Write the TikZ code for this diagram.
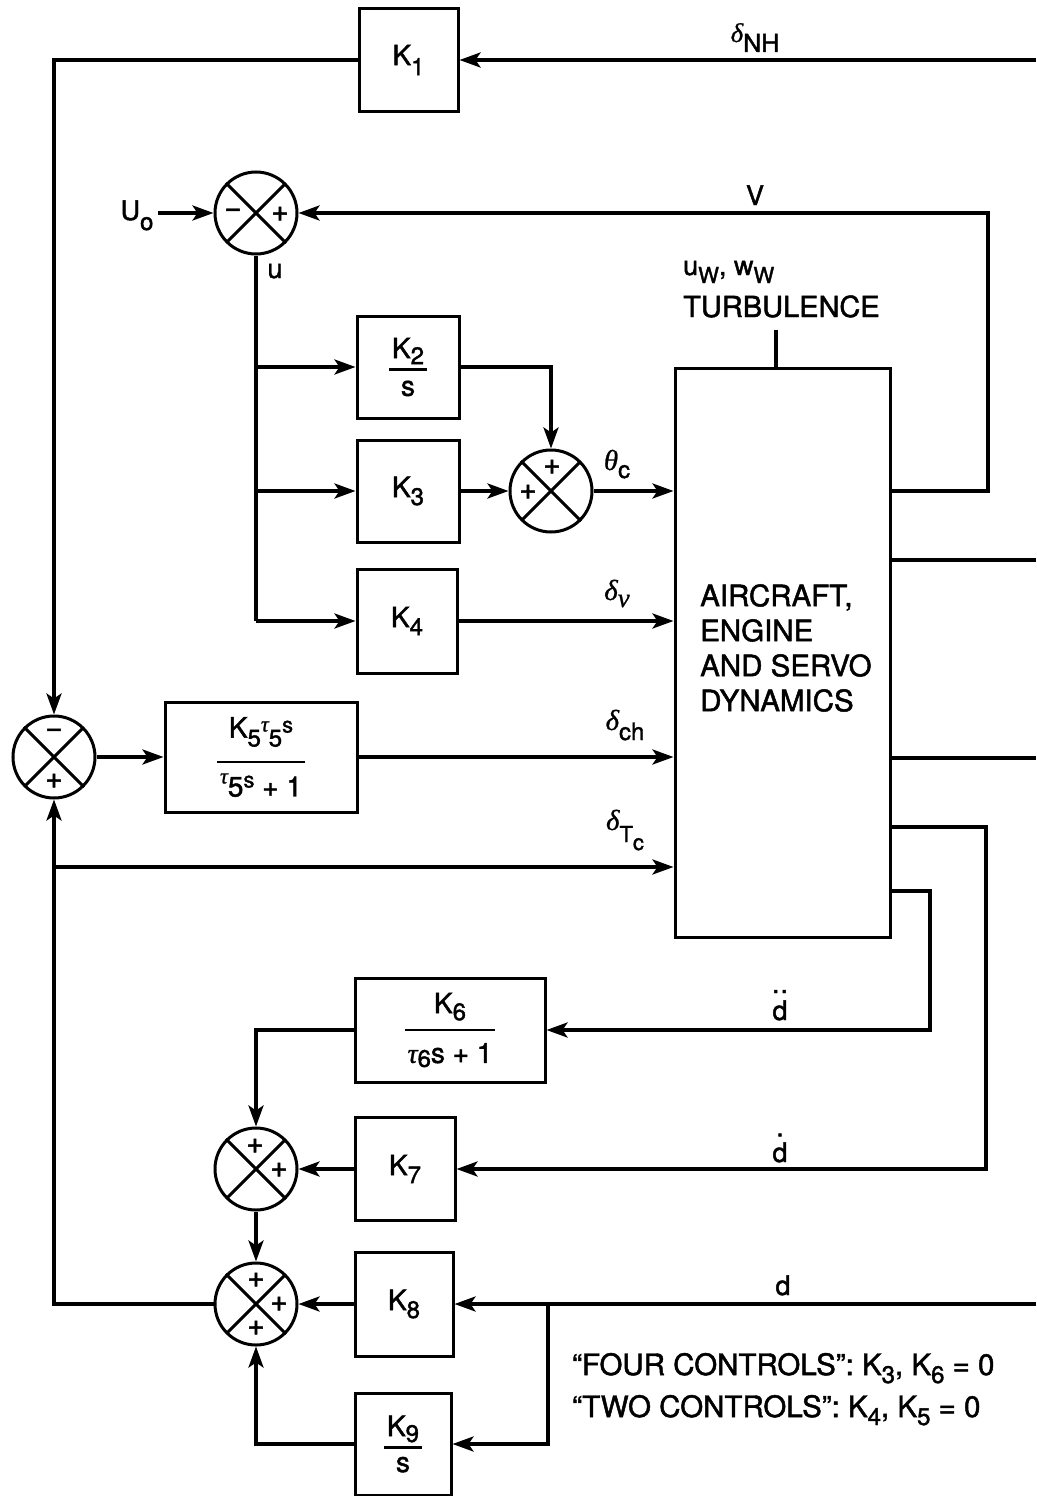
\RequirePackage{fix-cm}
\documentclass[tikz,border=0pt]{standalone}
\usepackage{fontspec}
\setmainfont{TeX Gyre Heros}[FakeBold=1.6]
\newfontfamily\grk{Liberation Serif}[FakeBold=0.8]
\usetikzlibrary{arrows.meta}
\newcommand\gk[1]{{\grk\itshape #1}}
\newcommand\lo[2][8pt]{\raisebox{-#1}{\fontsize{24}{24}\selectfont #2}}
\newcommand\hi[2][8pt]{\raisebox{#1}{\fontsize{22}{22}\selectfont #2}}
\newcommand\fr[4]{\vbox{\offinterlineskip\halign{\hfil\kern3pt##\kern3pt\hfil\cr #1\cr\noalign{\kern#3\hrule height 2.5pt\kern#4}#2\cr}}}
\newcommand\ddd{\ooalign{d\cr\hidewidth\raisebox{1.0em}{.\kern1pt.}\hidewidth\cr}}
\newcommand\dtd{\ooalign{d\cr\hidewidth\raisebox{0.95em}{.}\hidewidth\cr}}
\newcommand\sumx[2]{\node[sumj] (#1) at (#2) {};
  \draw[xln] (#1.north west) -- (#1.south east) (#1.north east) -- (#1.south west);}
\begin{document}
\begin{tikzpicture}[x=1pt,y=-1pt,
  font=\fontsize{28}{35}\selectfont,
  blk/.style={draw, line width=3pt, inner sep=0pt, align=center},
  sumj/.style={draw, circle, line width=3pt, minimum size=82pt, inner sep=0pt},
  xln/.style={line width=3pt, shorten <=1.5pt, shorten >=1.5pt},
  ln/.style={line width=3.5pt},
  arr/.style={line width=3.5pt, -{Stealth[length=21pt,width=15pt,inset=5pt]}},
  sg/.style={inner sep=0pt, font=\fontsize{30}{30}\selectfont},
  lbl/.style={inner sep=0pt, font=\fontsize{27}{30}\selectfont}]
\useasboundingbox (0,0) rectangle (1036,1496);
\clip (0,0) rectangle (1036,1496);

% blocks
\node[blk, minimum width=99pt, minimum height=103pt] (k1) at (408.5,60) {K\lo[10pt]{1}};
\node[blk, minimum width=102pt, minimum height=102pt] (k2) at (408,367) {\fr{K\lo[6pt]{2}}{s}{4pt}{10pt}};
\node[blk, minimum width=102pt, minimum height=102pt] (k3) at (408,491) {K\lo{3}};
\node[blk, minimum width=100pt, minimum height=104pt] (k4) at (407,621) {K\lo{4}};
\node[blk, minimum width=192pt, minimum height=110pt] (k5) at (261,757) {\fr{K\lo[9pt]{5}\hi[6pt]{\gk{τ}}\lo[9pt]{5}\hi[5pt]{s}}{\hi[13pt]{\gk{τ}}5\hi[9pt]{s} + 1}{14pt}{10pt}};
\node[blk, minimum width=215pt, minimum height=569pt] (ac) at (782.5,652.5) {};
\node[inner sep=0pt, align=left, anchor=north west, font=\fontsize{29.5}{35}\selectfont] (actxt) at (700,584) {AIRCRAFT,\\ENGINE\\AND SERVO\\DYNAMICS};
\node[blk, minimum width=190pt, minimum height=104pt] (k6) at (450,1030) {\fr{K\lo[7pt]{6}}{\gk{τ}\lo[4pt]{6}s + 1}{8pt}{12pt}};
\node[blk, minimum width=100pt, minimum height=103pt] (k7) at (405,1169) {K\lo{7}};
\node[blk, minimum width=98pt, minimum height=104pt] (k8) at (404,1304) {K\lo{8}};
\node[blk, minimum width=96pt, minimum height=102pt] (k9) at (403,1444) {\fr{K\lo[6pt]{9}}{s}{4pt}{8pt}};

% summing junctions
\sumx{s1}{256,213}
\sumx{s2}{551,491}
\sumx{s5}{54,757}
\sumx{s6}{256,1169}
\sumx{s7}{256,1304}
\node[sg] (s1a) at (233,213) {−};
\node[sg] (s1b) at (280,214) {+};
\node[sg] (s2a) at (552,467) {+};
\node[sg] (s2b) at (528,492) {+};
\node[sg] (s5a) at (54,733) {−};
\node[sg] (s5b) at (54,781) {+};
\node[sg] (s6a) at (255,1146) {+};
\node[sg] (s6b) at (279,1170) {+};
\node[sg] (s7a) at (256,1280) {+};
\node[sg] (s7b) at (279,1304) {+};
\node[sg] (s7c) at (256,1328) {+};

% labels
\node[lbl, anchor=base] (lnh) at (755,52) {\raisebox{10pt}{\gk{δ}}\raisebox{0pt}{\fontsize{25}{25}\selectfont NH}};
\node[lbl, anchor=base] (lv) at (755,205) {V};
\node[lbl, anchor=base, inner sep=4pt] (uo) at (137,220) {U\lo[10pt]{o}};
\node[lbl, anchor=base] (lu) at (275,278) {u};
\node[lbl, anchor=base west] (tb1) at (683,275) {u{\fontsize{22}{22}\selectfont\raisebox{-8pt}{W}}, w{\fontsize{22}{22}\selectfont\raisebox{-8pt}{W}}};
\node[lbl, anchor=base west, font=\fontsize{29}{30}\selectfont] (tb2) at (683,317) {TURBULENCE};
\node[lbl, anchor=base] (lth) at (617,470) {{\fontsize{29}{29}\selectfont\gk{θ}}\lo[8pt]{c}};
\node[lbl, anchor=base] (lnu) at (617,600) {{\fontsize{29}{29}\selectfont\gk{δ}}\raisebox{-7pt}{\gk{ν}}};
\node[lbl, anchor=base] (lch) at (625,740) {\raisebox{10pt}{\fontsize{29}{29}\selectfont\gk{δ}}\lo[0pt]{ch}};
\node[lbl, anchor=base] (ltc) at (625,842) {\raisebox{12pt}{\fontsize{29}{29}\selectfont\gk{δ}}{\fontsize{22}{22}\selectfont T\raisebox{-8pt}{c}}};
\node[lbl, anchor=base] (ldd) at (780,1020) {\ddd};
\node[lbl, anchor=base] (ld1) at (780,1162) {\dtd};
\node[lbl, anchor=base] (ld0) at (783,1295) {d};
\node[lbl, anchor=base west, font=\fontsize{29.5}{30}\selectfont] (n1) at (572,1375) {``FOUR CONTROLS'': K\lo{3}, K\lo{6} = 0};
\node[lbl, anchor=base west, font=\fontsize{29.5}{30}\selectfont] (n2) at (572,1417) {``TWO CONTROLS'': K\lo{4}, K\lo{5} = 0};

% free ends and corners
\coordinate (nhR) at (1036,60);
\coordinate (o1) at (890,491);
\coordinate (vR) at (988,213);
\coordinate (o2) at (890,560);
\coordinate (e2) at (1036,560);
\coordinate (o3) at (890,758);
\coordinate (e3) at (1036,758);
\coordinate (o4) at (890,827);
\coordinate (c7) at (986,1169);
\coordinate (o5) at (890,891);
\coordinate (c6) at (930,1030);
\coordinate (dR) at (1036,1304);
\coordinate (dj) at (548,1304);
\coordinate (j1) at (54,867);
\coordinate (tbl) at (776,330);

% connectors
\draw[arr] (nhR) -- (k1.east);
\draw[arr] (k1.west) -| (s5.north);
\draw[arr] (s1.west -| uo.east) -- (s1.west);
\draw[arr] (o1) -| (vR) -- (s1.east);
\draw[ln] (s1.south) -- (s1.south |- k4.west);
\draw[arr] (s1.south |- k2.west) -- (k2.west);
\draw[arr] (s1.south |- k3.west) -- (k3.west);
\draw[arr] (s1.south |- k4.west) -- (k4.west);
\draw[arr] (k2.east) -| (s2.north);
\draw[arr] (k3.east) -- (s2.west);
\draw[arr] (s2.east) -- (s2.east -| ac.west);
\draw[arr] (k4.east) -- (k4.east -| ac.west);
\draw[arr] (s5.east) -- (k5.west);
\draw[arr] (k5.east) -- (k5.east -| ac.west);
\draw[arr] (j1) -- (j1 -| ac.west);
\draw[ln] (tbl) -- (tbl |- ac.north);
\draw[ln] (o2) -- (e2);
\draw[ln] (o3) -- (e3);
\draw[arr] (o4) -| (c7) -- (k7.east);
\draw[arr] (o5) -| (c6) -- (k6.east);
\draw[arr] (k6.west) -| (s6.north);
\draw[arr] (k7.west) -- (s6.east);
\draw[arr] (s6.south) -- (s7.north);
\draw[arr] (dR) -- (k8.east);
\draw[arr] (dj) |- (k9.east);
\draw[arr] (k8.west) -- (s7.east);
\draw[arr] (k9.west) -| (s7.south);
\draw[arr] (s7.west) -| (s5.south);
\end{tikzpicture}
\end{document}
